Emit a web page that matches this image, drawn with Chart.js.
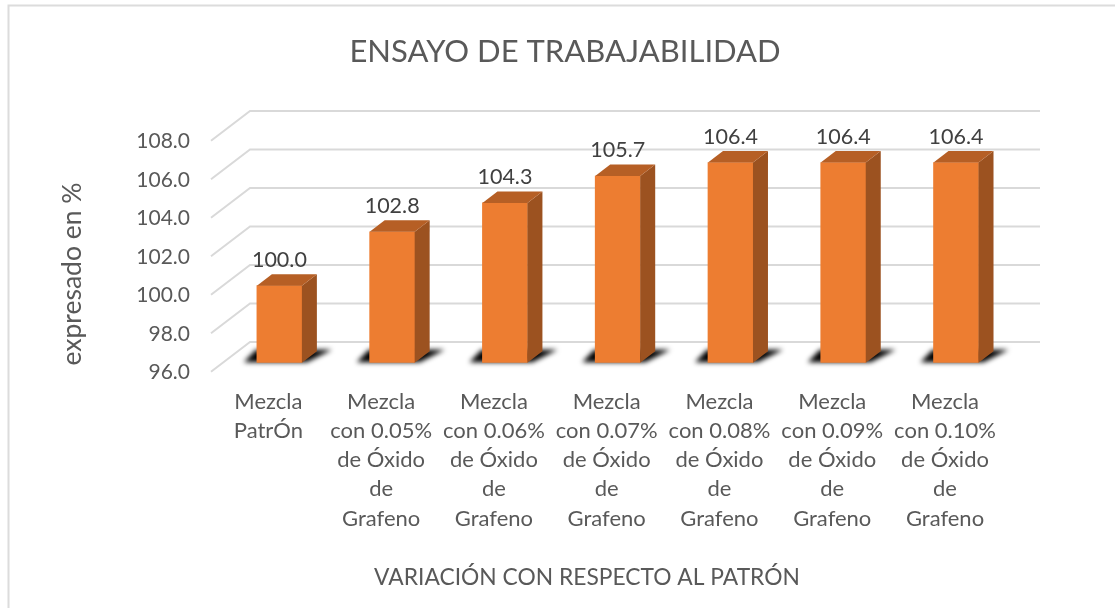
<!DOCTYPE html>
<html>
<head>
<meta charset="utf-8">
<style>html,body{margin:0;padding:0;background:#fff}canvas{display:block}</style>
<script src="https://cdn.jsdelivr.net/npm/chart.js@4"></script>
</head>
<body>
<div style="width:1115px;height:608px"><canvas id="c" width="1115" height="608"></canvas></div>
<script>
const categories = [
  ["Mezcla","PatrÓn"],
  ["Mezcla","con 0.05%","de Óxido","de","Grafeno"],
  ["Mezcla","con 0.06%","de Óxido","de","Grafeno"],
  ["Mezcla","con 0.07%","de Óxido","de","Grafeno"],
  ["Mezcla","con 0.08%","de Óxido","de","Grafeno"],
  ["Mezcla","con 0.09%","de Óxido","de","Grafeno"],
  ["Mezcla","con 0.10%","de Óxido","de","Grafeno"]
];
const values = [100.0, 102.8, 104.3, 105.7, 106.4, 106.4, 106.4];
const yMin = 96, yMax = 108, yStep = 2;
const chartTitle = "ENSAYO DE TRABAJABILIDAD";
const xTitle = "VARIACIÓN CON RESPECTO AL PATRÓN";
const yTitle = "expresado en %";
const FONT = "Lato, sans-serif";
const TXT = "#595959";

const depthX = 15, depthY = 11.5, backY = 20.7;

const threeD = {
  id: "threeD",
  beforeDraw(chart) {
    const c = chart.ctx;
    c.save();
    c.strokeStyle = "#dcdcdc"; c.lineWidth = 2;
    c.beginPath(); c.moveTo(8.5,608); c.lineTo(8.5,5.5); c.lineTo(1115,5.5); c.stroke();
    c.restore();
  },
  beforeDatasetsDraw(chart) {
    const c = chart.ctx, y = chart.scales.y, bt = chart.chartArea.bottom;
    c.save();
    c.strokeStyle = "#d9d9d9"; c.lineWidth = 2;
    y.ticks.forEach(t => {
      const py = y.getPixelForValue(t.value);
      c.beginPath();
      c.moveTo(211, py + 9);
      c.lineTo(250, py - backY);
      c.lineTo(1040, py - backY);
      c.stroke();
    });
    chart.getDatasetMeta(0).data.forEach(b => {
      const l = b.x - b.width/2, r = b.x + b.width/2;
      c.save();
      c.filter = "blur(2.5px)";
      c.fillStyle = "#000";
      c.beginPath();
      c.moveTo(l - 13, bt - 0.5);
      c.lineTo(l - 1, bt - 13);
      c.lineTo(r + 30, bt - 13);
      c.lineTo(r + 5, bt - 0.5);
      c.closePath(); c.fill();
      c.restore();
    });
    c.restore();
  },
  afterDatasetsDraw(chart) {
    const c = chart.ctx, bt = chart.chartArea.bottom;
    chart.getDatasetMeta(0).data.forEach((b,i) => {
      const l = b.x - b.width/2, r = b.x + b.width/2, t = b.y;
      c.save();
      c.fillStyle = "#9C5220";
      c.beginPath();
      c.moveTo(r,t); c.lineTo(r+depthX,t-depthY); c.lineTo(r+depthX,bt-depthY); c.lineTo(r,bt);
      c.closePath(); c.fill();
      c.fillStyle = "#B65F25";
      c.beginPath();
      c.moveTo(l,t); c.lineTo(l+depthX,t-depthY); c.lineTo(r+depthX,t-depthY); c.lineTo(r,t);
      c.closePath(); c.fill();
      c.fillStyle = "#404040";
      c.font = "21.5px " + FONT;
      c.textAlign = "center"; c.textBaseline = "middle";
      c.fillText(values[i].toFixed(1), b.x, t - 25.5);
      c.restore();
    });
    c.save();
    c.fillStyle = TXT;
    c.textAlign = "center"; c.textBaseline = "middle";
    c.font = "22.8px " + FONT;
    c.fillText(xTitle, 587, 578);
    c.translate(72, 274); c.rotate(-Math.PI/2);
    c.font = "26.5px " + FONT;
    c.fillText(yTitle, 0, 0);
    c.restore();
  }
};

new Chart(document.getElementById("c"), {
  type: "bar",
  data: { labels: categories, datasets: [{ data: values, backgroundColor: "#ED7D31", barThickness: 45 }] },
  plugins: [threeD],
  options: {
    responsive: false, animation: false,
    layout: { padding: { left: 117.6, right: 102.6, top: 0, bottom: 0 } },
    plugins: {
      legend: { display: false }, tooltip: { enabled: false },
      title: { display: true, text: chartTitle, color: TXT,
        font: { family: FONT, size: 31, weight: "normal", lineHeight: 1.2 },
        padding: { top: 33.4, bottom: 61.1 } }
    },
    scales: {
      x: {
        grid: { display: false }, border: { display: false },
        afterFit(s) { s.height = 245.3; },
        ticks: { color: TXT, font: { family: FONT, size: 22, lineHeight: 1.327 }, padding: 16.5,
          labelOffset: -11, autoSkip: false, maxRotation: 0, minRotation: 0 }
      },
      y: {
        min: yMin, max: yMax,
        grid: { display: false, drawTicks: false }, border: { display: false },
        afterFit(s) { s.width = 105.4; },
        ticks: { color: TXT, stepSize: yStep, font: { family: FONT, size: 21 }, padding: 33, labelOffset: 9.8,
          callback: v => v.toFixed(1) }
      }
    }
  }
});
</script>
</body>
</html>
